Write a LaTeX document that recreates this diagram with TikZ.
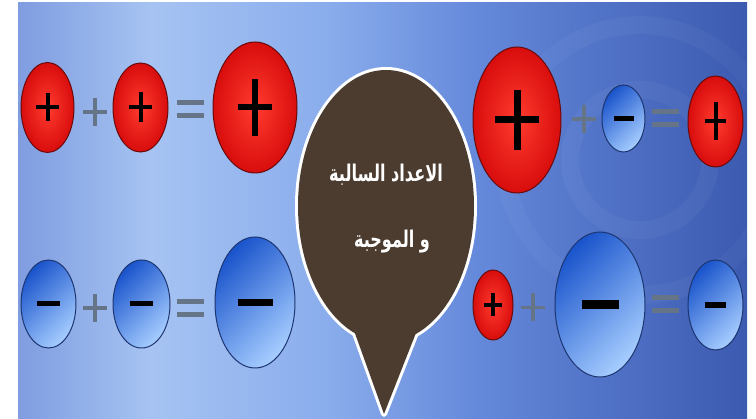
\documentclass[tikz,border=0pt]{standalone}
\usepackage{fontspec}
\newfontfamily\arabicfont[Script=Arabic]{DejaVu Sans}
\TeXXeTstate=1
\usetikzlibrary{shapes.geometric}
\definecolor{bgA}{HTML}{7F9DE0}
\definecolor{bgB}{HTML}{A6C3F2}
\definecolor{bgC}{HTML}{89ACEC}
\definecolor{bgD}{HTML}{6488DA}
\definecolor{bgE}{HTML}{3B5AB0}
\definecolor{redOut}{HTML}{D80D0D}
\definecolor{redIn}{HTML}{FF3B2E}
\definecolor{redEdge}{HTML}{6A0A0A}
\definecolor{blueTop}{HTML}{1B55CC}
\definecolor{blueBot}{HTML}{A6CDFF}
\definecolor{blueEdge}{HTML}{1D3570}
\definecolor{opgray}{HTML}{667488}
\definecolor{bubble}{HTML}{4B3C2F}
\tikzset{
  ball/.style={ellipse, inner sep=0pt, outer sep=0pt, line width=1pt},
  redball/.style={ball, draw=redEdge, inner color=redIn, outer color=redOut},
  blueball/.style={ball, draw=blueEdge, top color=blueTop, bottom color=blueBot, shading angle=45},
  pics/plussign/.style n args={3}{code={
    \draw[black, line width=#3] (-#1,0) -- (#1,0) (0,-#2) -- (0,#2);}},
  pics/minussign/.style n args={2}{code={
    \draw[black, line width=#2] (-#1,0) -- (#1,0);}},
  pics/opplus/.style={code={
    \draw[opgray, line width=3.5pt] (-12,0) -- (12,0) (0,-14) -- (0,14);}},
  pics/opeq/.style={code={
    \draw[opgray, line width=5pt] (-13.5,-6.5) -- (13.5,-6.5) (-13.5,6.5) -- (13.5,6.5);}},
  title/.style={text=white, inner sep=0pt, font=\arabicfont\bfseries\fontsize{23}{23}\selectfont}
}
\begin{document}
\begin{tikzpicture}[x=1pt,y=-1pt]
\useasboundingbox (0,0) rectangle (756,419);
% background
\fill[left color=bgA, right color=bgB] (18,3) rectangle (150.5,419);
\fill[left color=bgB, right color=bgC] (150,3) rectangle (330.5,419);
\fill[left color=bgC, right color=bgD] (330,3) rectangle (480.5,419);
\fill[left color=bgD, right color=bgE] (480,3) rectangle (747,419);
\begin{scope}
\clip (18,3) rectangle (747,419);
\draw[white, opacity=0.04, line width=18pt] (640,160) circle[radius=70];
\draw[white, opacity=0.035, line width=18pt] (640,160) circle[radius=135];
\end{scope}
% speech bubble
\coordinate (tip) at (384,414);
\coordinate (tl) at (343,300);
\coordinate (tr) at (429,300);
\draw[white, line width=6pt] (386,206) ellipse[x radius=88, y radius=136];
\draw[white, line width=6pt, line join=round] (tl) -- (tip) -- (tr);
\fill[bubble] (386,206) ellipse[x radius=88, y radius=136];
\fill[bubble] (tl) -- (tip) -- (tr) -- cycle;
\node[title] (t1) at (386,175) {\scalebox{0.7}[1]{\beginR الاعداد السالبة\endR}};
\node[title] (t2) at (392,242) {\scalebox{0.7}[1]{\beginR و الموجبة\endR}};
% top left row
\node[redball, minimum width=53pt, minimum height=90pt] (a1) at (47.5,107.5) {};
\node[redball, minimum width=55pt, minimum height=89pt] (a2) at (140.5,107.5) {};
\node[redball, minimum width=84pt, minimum height=131pt] (a3) at (255,107.5) {};
\pic at (a1) {plussign={11.5}{14}{4pt}};
\pic at (a2) {plussign={11.5}{15}{4pt}};
\pic at (a3) {plussign={17}{28.5}{6pt}};
\coordinate (pa) at (95,112);
\coordinate (ea) at (190.5,109);
\pic at (pa) {opplus};
\pic at (ea) {opeq};
% top right row
\node[redball, minimum width=88pt, minimum height=146pt] (b1) at (517,120) {};
\node[blueball, minimum width=43pt, minimum height=67pt] (b2) at (623.5,118.5) {};
\node[redball, minimum width=55pt, minimum height=91pt] (b3) at (715.5,121.5) {};
\pic at (b1) {plussign={22}{30}{7pt}};
\pic at (b2) {minussign={10}{5pt}};
\pic at (b3) {plussign={10.5}{19}{4pt}};
\coordinate (pb) at (584,119);
\coordinate (eb) at (665,118.5);
\pic at (pb) {opplus};
\pic at (eb) {opeq};
% bottom left row
\node[blueball, minimum width=55pt, minimum height=88pt] (c1) at (48.5,304) {};
\node[blueball, minimum width=57pt, minimum height=88pt] (c2) at (141.5,304) {};
\node[blueball, minimum width=80pt, minimum height=131pt] (c3) at (255,302.5) {};
\pic at (c1) {minussign={11.5}{5pt}};
\pic at (c2) {minussign={11.5}{5pt}};
\pic at (c3) {minussign={17.5}{7pt}};
\coordinate (pc) at (95,308);
\coordinate (ec) at (190.5,308.5);
\pic at (pc) {opplus};
\pic at (ec) {opeq};
% bottom right row
\node[redball, minimum width=40pt, minimum height=70pt] (d1) at (493,305) {};
\node[blueball, minimum width=90pt, minimum height=145pt] (d2) at (600,304.5) {};
\node[blueball, minimum width=55pt, minimum height=90pt] (d3) at (715.5,305) {};
\pic at (d1) {plussign={9}{11.5}{3.5pt}};
\pic at (d2) {minussign={18.5}{9pt}};
\pic at (d3) {minussign={10.5}{6pt}};
\coordinate (pd) at (533,307.5);
\coordinate (ed) at (665,304);
\pic at (pd) {opplus};
\pic at (ed) {opeq};
\end{tikzpicture}
\end{document}
